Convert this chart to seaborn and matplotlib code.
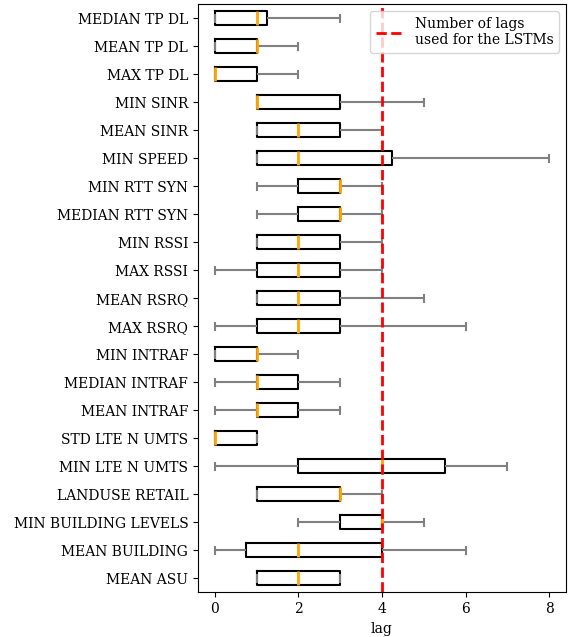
import numpy as np
import pandas as pd
import matplotlib
matplotlib.use("Agg")
import matplotlib.pyplot as plt
import seaborn as sns

# ── data: five numbers per feature (min, q1, median, q3, max) ──────────────────

features = [
    "MEDIAN TP DL", "MEAN TP DL", "MAX TP DL", "MIN SINR", "MEAN SINR",
    "MIN SPEED", "MIN RTT SYN", "MEDIAN RTT SYN", "MIN RSSI", "MAX RSSI",
    "MEAN RSRQ", "MAX RSRQ", "MIN INTRAF", "MEDIAN INTRAF", "MEAN INTRAF",
    "STD LTE N UMTS", "MIN LTE N UMTS", "LANDUSE RETAIL",
    "MIN BUILDING LEVELS", "MEAN BUILDING", "MEAN ASU",
]
lag_min    = [0, 0, 0, 1, 1, 1, 1, 1, 1, 0, 1, 0, 0, 0, 0, 0, 0, 1, 2, 0,    1]
lag_q1     = [0, 0, 0, 1, 1, 1, 2, 2, 1, 1, 1, 1, 0, 1, 1, 0, 2, 1, 3, 0.75, 1]
lag_median = [1, 1, 0, 1, 2, 2, 3, 3, 2, 2, 2, 2, 1, 1, 1, 0, 4, 3, 4, 2,    2]
lag_q3     = [1.25, 1, 1, 3, 3, 4.25, 3, 3, 3, 3, 3, 3, 1, 2, 2, 1, 5.5, 3, 4, 4, 3]
lag_max    = [3, 2, 2, 5, 4, 8, 4, 4, 4, 4, 5, 6, 2, 3, 3, 1, 7, 4, 5, 6,    3]
lstm_lags = 4

rows = []
for i, f in enumerate(features):
    for v in (lag_min[i], lag_q1[i], lag_median[i], lag_q3[i], lag_max[i]):
        rows.append({"feature": f, "lag": v})
df = pd.DataFrame(rows)

plt.rcParams["font.family"] = ["DejaVu Serif"]
plt.rcParams["font.size"] = 10

fig, ax = plt.subplots(figsize=(5.74, 6.37), dpi=100)
fig.subplots_adjust(left=0.345, right=0.986, top=0.993, bottom=0.070)

sns.boxplot(
    data=df, x="lag", y="feature", order=features, orient="h",
    whis=(0, 100), width=0.5, fill=False, linecolor="black", linewidth=1.5,
    boxprops=dict(color="black", linewidth=1.5),
    medianprops=dict(color="orange", linewidth=2),
    whiskerprops=dict(color="grey", linewidth=1.5),
    capprops=dict(color="grey", linewidth=1.5),
    ax=ax,
)

ax.axvline(lstm_lags, color="red", ls="--", lw=2, zorder=5,
           label="Number of lags\nused for the LSTMs")
ax.set_xlim(-0.4, 8.4)
ax.set_xticks([0, 2, 4, 6, 8])
ax.set_xlabel("lag")
ax.set_ylabel("")
ax.legend(loc="upper right")

plt.savefig("out.png", dpi=100)
